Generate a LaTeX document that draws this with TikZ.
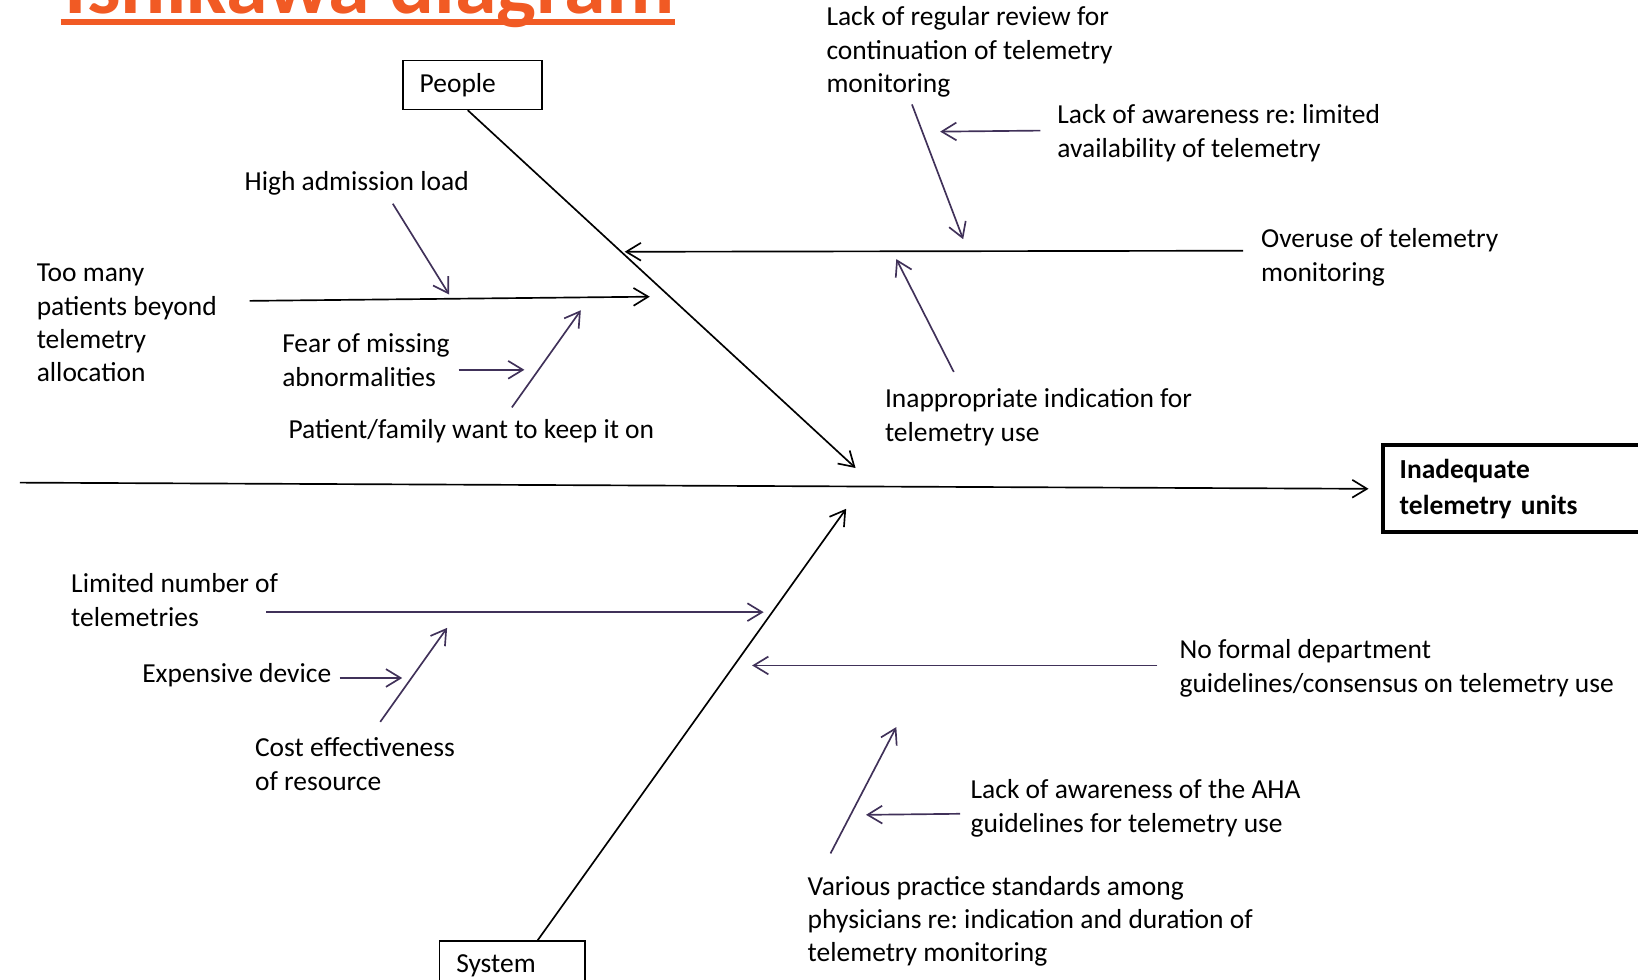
\documentclass[tikz,border=0pt]{standalone}
\usepackage{fontspec}
\setmainfont{Carlito}
\usetikzlibrary{arrows.meta}
\definecolor{twigpurple}{RGB}{64,49,89}
\definecolor{titleorange}{RGB}{241,90,36}
\begin{document}
\begin{tikzpicture}[x=1pt,y=-1pt,
  lbl/.style={anchor=base west, inner sep=0pt, align=left, font=\fontsize{26.3}{32.5}\selectfont\frenchspacing},
  catbox/.style={draw, line width=1.5pt, inner xsep=16pt, inner ysep=0pt, minimum height=47pt, align=left, anchor=north west, font=\fontsize{26.3}{32.5}\selectfont},
  effectbox/.style={draw, line width=3.8pt, inner xsep=16pt, inner ysep=0pt, minimum height=83pt, text width=240pt, align=left, anchor=north west, font=\fontsize{26.3}{34}\selectfont\bfseries\frenchspacing},
  bone/.style={draw=black, line width=1.6pt, -{Straight Barb[length=14pt,width=17pt]}},
  twig/.style={draw=twigpurple, line width=1.6pt, -{Straight Barb[length=14pt,width=17pt]}},
]
\useasboundingbox (0,0) rectangle (1568,938);
\clip (0,0) rectangle (1568,938);

% title
\node[anchor=base west, inner sep=0pt, text=titleorange, font=\fontsize{80.5}{90}\selectfont\bfseries] (title) at (62,13) {Ishikawa diagram};
\draw[titleorange, line width=6.5pt] (58,21) -- (646,21);

% category boxes and effect
\node[catbox, text width=101pt] (people) at (385,57) {People};
\node[catbox, text width=107pt] (system) at (420,900) {System};
\node[effectbox] (effect) at (1322,424.5) {Inadequate\\telemetry units};

% labels (base = baseline of the last line)
\node[lbl] (review) at (791,89) {Lack of regular review for\\continuation of telemetry\\monitoring};
\node[lbl] (awarelim) at (1012,151) {Lack of awareness re: limited\\availability of telemetry};
\node[lbl] (high) at (234,182) {High admission load};
\node[lbl] (overuse) at (1207,269) {Overuse of telemetry\\monitoring};
\node[lbl, font=\fontsize{26.3}{31.7}\selectfont] (toomany) at (35,365) {Too many\\patients beyond\\telemetry\\allocation};
\node[lbl] (fear) at (270,370) {Fear of missing\\abnormalities};
\node[lbl] (family) at (276,420) {Patient/family want to keep it on};
\node[lbl] (inapp) at (847,423) {Inappropriate indication for\\telemetry use};
\node[lbl] (limited) at (68,600) {Limited number of\\telemetries};
\node[lbl] (expensive) at (136,653) {Expensive device};
\node[lbl] (cost) at (244,757) {Cost effectiveness\\of resource};
\node[lbl] (noformal) at (1129,663) {No formal department\\guidelines/consensus on telemetry use};
\node[lbl] (aha) at (929,797) {Lack of awareness of the AHA\\guidelines for telemetry use};
\node[lbl, font=\fontsize{26.3}{31.5}\selectfont\frenchspacing] (various) at (773,920) {Various practice standards among\\physicians re: indication and duration of\\telemetry monitoring};

% connector end points
\coordinate (spineS) at (19,462);
\coordinate (peopleE) at (819,448);
\coordinate (systemE) at (810,487);
\coordinate (overS) at (1190,240);
\coordinate (overE) at (598,241);
\coordinate (tooS) at (239,288);
\coordinate (tooE) at (622,284);
\coordinate (highS) at (376,195);
\coordinate (highE) at (430,282);
\coordinate (fearS) at (439,354);
\coordinate (fearE) at (502,354);
\coordinate (famS) at (490,390);
\coordinate (famE) at (556,297);
\coordinate (awS) at (996,125);
\coordinate (awE) at (900,126);
\coordinate (revS) at (873,100);
\coordinate (revE) at (922,229);
\coordinate (inS) at (913,356);
\coordinate (inE) at (858,248);
\coordinate (limS) at (255,586);
\coordinate (limE) at (731,586);
\coordinate (expS) at (325,649);
\coordinate (expE) at (385,649);
\coordinate (costS) at (364,691);
\coordinate (costE) at (428,601);
\coordinate (nfS) at (1108,637);
\coordinate (nfE) at (720,637);
\coordinate (ahaS) at (919,779);
\coordinate (ahaE) at (829,780);
\coordinate (varS) at (795,817);
\coordinate (varE) at (858,696);

% main bones
\draw[bone] (spineS) -- ([xshift=-12pt]effect.west);
\draw[bone] ([xshift=-4.5pt]people.south) -- (peopleE);
\draw[bone] ([xshift=24.5pt]system.north) -- (systemE);
\draw[bone] (overS) -- (overE);
\draw[bone] (tooS) -- (tooE);

% twigs
\draw[twig] (highS) -- (highE);
\draw[twig] (fearS) -- (fearE);
\draw[twig] (famS) -- (famE);
\draw[twig] (awS) -- (awE);
\draw[twig] (revS) -- (revE);
\draw[twig] (inS) -- (inE);
\draw[twig] (limS) -- (limE);
\draw[twig] (expS) -- (expE);
\draw[twig] (costS) -- (costE);
\draw[twig] (nfS) -- (nfE);
\draw[twig] (ahaS) -- (ahaE);
\draw[twig] (varS) -- (varE);
\end{tikzpicture}
\end{document}
